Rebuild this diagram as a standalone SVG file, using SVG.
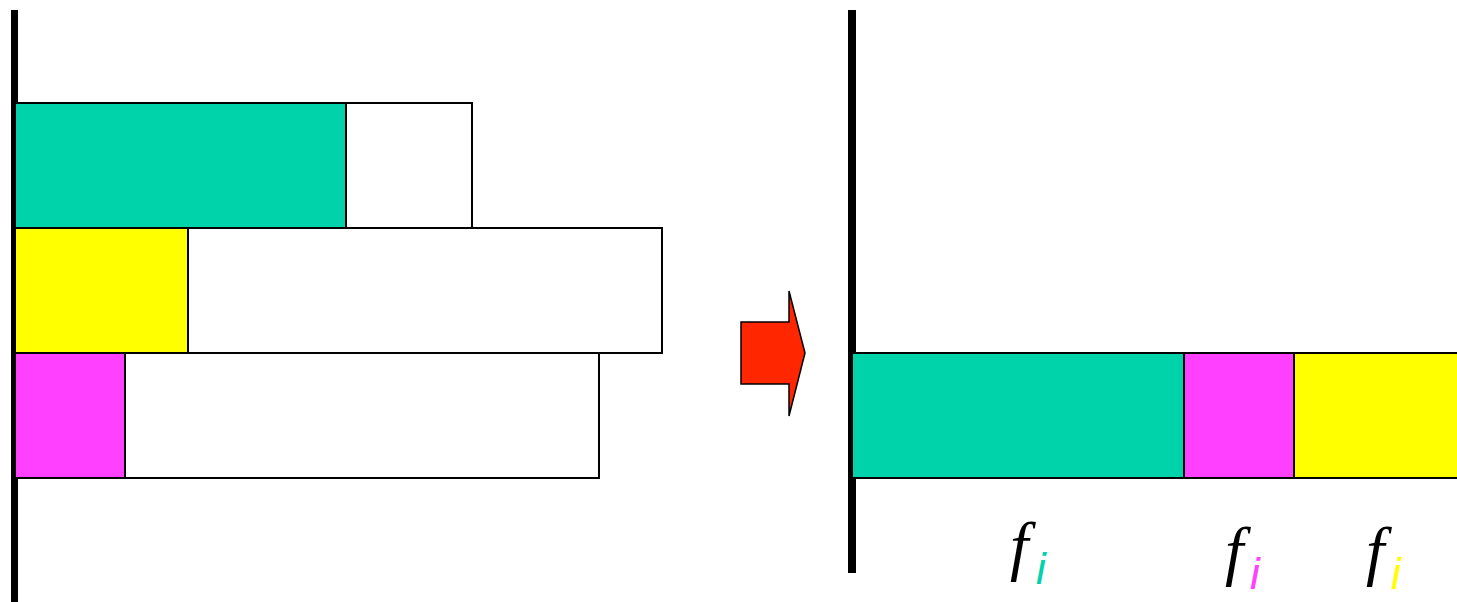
<svg xmlns="http://www.w3.org/2000/svg" width="1457" height="602" viewBox="0 0 1457 602">
<style>
.box{stroke:#000;stroke-width:2}
.axis{fill:#000}
.f{font-family:"Liberation Serif",serif;font-style:italic;font-size:66px;fill:#000}
.i{font-family:"Liberation Sans",sans-serif;font-style:italic;font-size:44px}
</style>
<rect width="1457" height="602" fill="#fff"/>
<g id="left-axis"><rect class="axis" x="11" y="10" width="7" height="592"/></g>
<g id="left-row1">
<rect class="box" x="15" y="103" width="331" height="125" fill="#00d2aa"/>
<rect class="box" x="346" y="103" width="126" height="125" fill="#fff"/>
</g>
<g id="left-row2">
<rect class="box" x="188" y="228" width="474" height="125" fill="#fff"/>
<rect class="box" x="15" y="228" width="173" height="125" fill="#ffff00"/>
</g>
<g id="left-row3">
<rect class="box" x="125" y="353" width="474" height="125" fill="#fff"/>
<rect class="box" x="15" y="353" width="110" height="125" fill="#ff40ff"/>
</g>
<g id="connectors">
<path d="M741,322 H789 V291 L805,353 L789,416 V384 H741 Z" fill="#ff2600" stroke="#000" stroke-width="1.5"/>
</g>
<g id="right-axis"><rect class="axis" x="848" y="10" width="8" height="563"/></g>
<g id="right-bar">
<rect class="box" x="852" y="353" width="332" height="125" fill="#00d2aa"/>
<rect class="box" x="1184" y="353" width="110" height="125" fill="#ff40ff"/>
<rect class="box" x="1294" y="353" width="170" height="125" fill="#ffff00"/>
</g>
<g id="labels">
<text class="f" x="1010" y="568">f</text><text class="i" x="1036" y="584" fill="#00d2aa">i</text>
<text class="f" x="1225" y="573">f</text><text class="i" x="1250" y="589" fill="#ff40ff">i</text>
<text class="f" x="1366" y="573">f</text><text class="i" x="1391" y="589" fill="#ffff00">i</text>
</g>
</svg>
